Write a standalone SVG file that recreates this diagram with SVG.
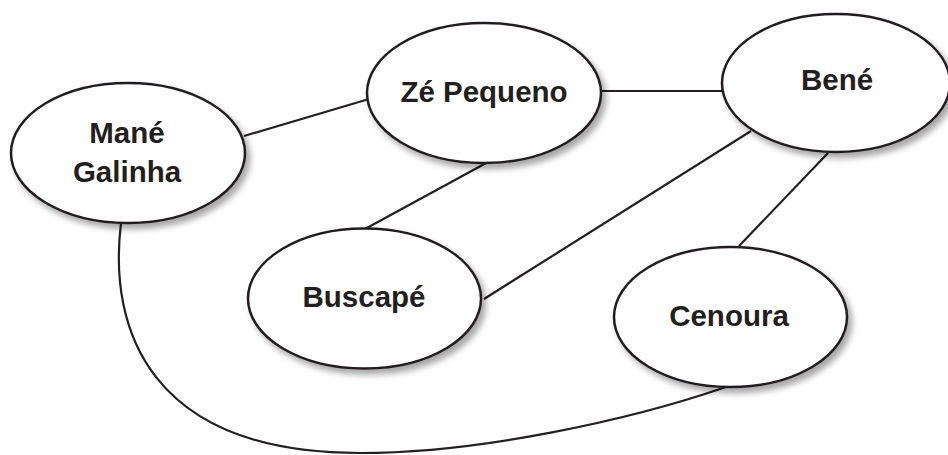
<svg xmlns="http://www.w3.org/2000/svg" width="948" height="455" viewBox="0 0 948 455">
  <defs>
    <filter id="shadow" x="-20%" y="-20%" width="140%" height="150%">
      <feDropShadow dx="4" dy="5" stdDeviation="3" flood-color="#000" flood-opacity="0.35"/>
    </filter>
  </defs>
  <style>
    .node ellipse { fill: #ffffff; stroke: #231f20; stroke-width: 2.5; filter: url(#shadow); }
    .node text { font-family: "Liberation Sans", Arial, sans-serif; font-weight: bold; font-size: 29.5px; fill: #231f20; text-anchor: middle; }
    .edges line, .edges path { stroke: #231f20; stroke-width: 2.2; fill: none; }
  </style>
  <rect width="948" height="455" fill="#ffffff"/>
  <g class="edges" id="connectors">
    <line x1="244" y1="136" x2="369" y2="99"/>
    <line x1="601" y1="91" x2="723" y2="91"/>
    <line x1="488" y1="162" x2="365" y2="229"/>
    <line x1="751" y1="131" x2="484" y2="299"/>
    <line x1="828" y1="153" x2="739" y2="246"/>
    <path d="M 121 223 C 108 330, 150 453, 360 453 C 480 453, 630 420, 726 387"/>
  </g>
  <g class="node" id="mane-galinha">
    <ellipse cx="128" cy="153" rx="117" ry="70"/>
    <text x="127" y="143">Mané</text>
    <text x="127" y="182">Galinha</text>
  </g>
  <g class="node" id="ze-pequeno">
    <ellipse cx="484" cy="93" rx="117" ry="70"/>
    <text x="484" y="102">Zé Pequeno</text>
  </g>
  <g class="node" id="bene">
    <ellipse cx="836" cy="83" rx="114" ry="69"/>
    <text x="837" y="90">Bené</text>
  </g>
  <g class="node" id="buscape">
    <ellipse cx="364.5" cy="298.5" rx="116.5" ry="70"/>
    <text x="364" y="307">Buscapé</text>
  </g>
  <g class="node" id="cenoura">
    <ellipse cx="730.5" cy="317" rx="116.5" ry="70"/>
    <text x="729" y="326">Cenoura</text>
  </g>
</svg>
